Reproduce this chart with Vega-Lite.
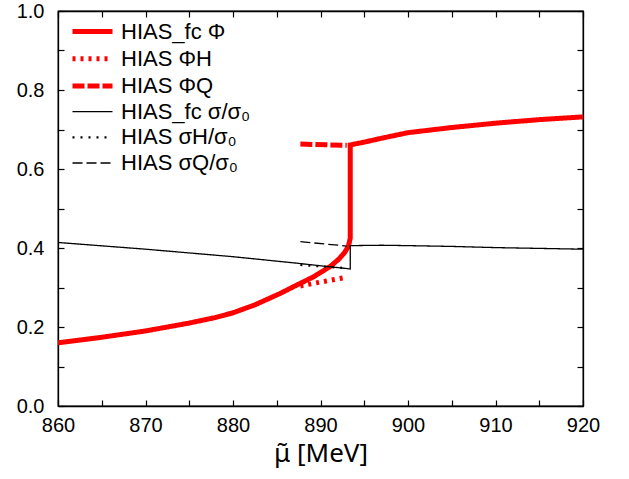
{
  "$schema": "https://vega.github.io/schema/vega-lite/v6.json",
  "width": 525,
  "height": 395,
  "autosize": {"type": "none"},
  "padding": {"left": 58, "top": 11, "right": 46, "bottom": 73},
  "background": "white",
  "config": {
    "font": "Liberation Sans",
    "view": {"stroke": "black", "strokeWidth": 1.3},
    "axis": {"grid": false, "domainColor": "black", "tickColor": "black", "labelColor": "black", "titleColor": "black", "labelFont": "Liberation Sans", "labelFontSize": 20, "tickSize": -6, "tickWidth": 1.2, "domainWidth": 1.3, "labelFlush": false, "labelOverlap": false}
  },
  "data": {"values": [
    {"s": "HIAS_fc Φ", "i": 1, "x": 860, "y": 0.160},
    {"s": "HIAS_fc Φ", "i": 2, "x": 865, "y": 0.174},
    {"s": "HIAS_fc Φ", "i": 3, "x": 870, "y": 0.190},
    {"s": "HIAS_fc Φ", "i": 4, "x": 875, "y": 0.210},
    {"s": "HIAS_fc Φ", "i": 5, "x": 878, "y": 0.224},
    {"s": "HIAS_fc Φ", "i": 6, "x": 880, "y": 0.236},
    {"s": "HIAS_fc Φ", "i": 7, "x": 882.5, "y": 0.256},
    {"s": "HIAS_fc Φ", "i": 8, "x": 885.4, "y": 0.285},
    {"s": "HIAS_fc Φ", "i": 9, "x": 887.1, "y": 0.304},
    {"s": "HIAS_fc Φ", "i": 10, "x": 889.2, "y": 0.327},
    {"s": "HIAS_fc Φ", "i": 11, "x": 891.1, "y": 0.353},
    {"s": "HIAS_fc Φ", "i": 12, "x": 892.1, "y": 0.372},
    {"s": "HIAS_fc Φ", "i": 13, "x": 892.8, "y": 0.390},
    {"s": "HIAS_fc Φ", "i": 14, "x": 893.2, "y": 0.405},
    {"s": "HIAS_fc Φ", "i": 15, "x": 893.4, "y": 0.425},
    {"s": "HIAS_fc Φ", "i": 16, "x": 893.4, "y": 0.661},
    {"s": "HIAS_fc Φ", "i": 17, "x": 895, "y": 0.668},
    {"s": "HIAS_fc Φ", "i": 18, "x": 897, "y": 0.678},
    {"s": "HIAS_fc Φ", "i": 19, "x": 900, "y": 0.692},
    {"s": "HIAS_fc Φ", "i": 20, "x": 905, "y": 0.705},
    {"s": "HIAS_fc Φ", "i": 21, "x": 910, "y": 0.716},
    {"s": "HIAS_fc Φ", "i": 22, "x": 915, "y": 0.725},
    {"s": "HIAS_fc Φ", "i": 23, "x": 920, "y": 0.732},
    {"s": "HIAS ΦH", "i": 1, "x": 887.7, "y": 0.304},
    {"s": "HIAS ΦH", "i": 2, "x": 890.3, "y": 0.315},
    {"s": "HIAS ΦH", "i": 3, "x": 893.0, "y": 0.326},
    {"s": "HIAS ΦQ", "i": 1, "x": 887.7, "y": 0.663},
    {"s": "HIAS ΦQ", "i": 2, "x": 893.0, "y": 0.660},
    {"s": "HIAS_fc σ/σ₀", "i": 1, "x": 860, "y": 0.414},
    {"s": "HIAS_fc σ/σ₀", "i": 2, "x": 870, "y": 0.397},
    {"s": "HIAS_fc σ/σ₀", "i": 3, "x": 880, "y": 0.378},
    {"s": "HIAS_fc σ/σ₀", "i": 4, "x": 887.1, "y": 0.362},
    {"s": "HIAS_fc σ/σ₀", "i": 5, "x": 890, "y": 0.355},
    {"s": "HIAS_fc σ/σ₀", "i": 6, "x": 893.4, "y": 0.347},
    {"s": "HIAS_fc σ/σ₀", "i": 7, "x": 893.4, "y": 0.406},
    {"s": "HIAS_fc σ/σ₀", "i": 8, "x": 897, "y": 0.407},
    {"s": "HIAS_fc σ/σ₀", "i": 9, "x": 900, "y": 0.406},
    {"s": "HIAS_fc σ/σ₀", "i": 10, "x": 905, "y": 0.404},
    {"s": "HIAS_fc σ/σ₀", "i": 11, "x": 910, "y": 0.401},
    {"s": "HIAS_fc σ/σ₀", "i": 12, "x": 915, "y": 0.399},
    {"s": "HIAS_fc σ/σ₀", "i": 13, "x": 920, "y": 0.397},
    {"s": "HIAS σH/σ₀", "i": 1, "x": 887.7, "y": 0.357},
    {"s": "HIAS σH/σ₀", "i": 2, "x": 893.0, "y": 0.349},
    {"s": "HIAS σQ/σ₀", "i": 1, "x": 887.7, "y": 0.416},
    {"s": "HIAS σQ/σ₀", "i": 2, "x": 893.0, "y": 0.405}
  ]},
  "layer": [
    {
      "mark": {"type": "line", "clip": true},
      "encoding": {
        "x": {"field": "x", "type": "quantitative", "scale": {"domain": [860, 920], "nice": false},
          "axis": {"orient": "bottom", "title": "μ̃ [MeV]", "titleFont": "Noto Sans", "titleFontSize": 26, "titleFontWeight": "normal", "titlePadding": 5, "labelPadding": 15,
            "values": [860,865,870,875,880,885,890,895,900,905,910,915,920],
            "labelExpr": "datum.value % 10 == 0 ? datum.label : ''"}},
        "y": {"field": "y", "type": "quantitative", "scale": {"domain": [0, 1], "nice": false},
          "axis": {"orient": "left", "title": null, "labelPadding": 20,
            "values": [0,0.1,0.2,0.3,0.4,0.5,0.6,0.7,0.8,0.9,1.0],
            "labelExpr": "round(datum.value*10) % 2 == 0 ? format(datum.value, '.1f') : ''"}},
        "order": {"field": "i", "type": "quantitative"},
        "color": {"field": "s", "type": "nominal",
          "scale": {"domain": ["HIAS_fc Φ", "HIAS ΦH", "HIAS ΦQ", "HIAS_fc σ/σ₀", "HIAS σH/σ₀", "HIAS σQ/σ₀"],
                    "range": ["#ff0000", "#ff0000", "#ff0000", "#000000", "#000000", "#000000"]},
          "legend": {"orient": "none", "legendX": 22, "legendY": 8, "title": null, "symbolType": "M-2,0H2", "symbolSize": 400, "labelFont": "Liberation Sans", "labelFontSize": 22, "labelColor": "black", "rowPadding": 3.2, "labelOffset": 16, "symbolLimit": 0}},
        "strokeDash": {"field": "s", "type": "nominal",
          "scale": {"domain": ["HIAS_fc Φ", "HIAS ΦH", "HIAS ΦQ", "HIAS_fc σ/σ₀", "HIAS σH/σ₀", "HIAS σQ/σ₀"],
                    "range": [[1, 0], [3, 5], [12, 3], [1, 0], [2, 6], [10, 4]]}},
        "strokeWidth": {"field": "s", "type": "nominal",
          "scale": {"type": "ordinal", "domain": ["HIAS_fc Φ", "HIAS ΦH", "HIAS ΦQ", "HIAS_fc σ/σ₀", "HIAS σH/σ₀", "HIAS σQ/σ₀"],
                    "range": [5, 5, 5, 1.3, 2.2, 1.3]}}
      }
    },
    {
      "mark": {"type": "line", "opacity": 0},
      "encoding": {
        "x": {"field": "x", "type": "quantitative",
          "axis": {"orient": "top", "title": null, "labels": false, "values": [860,865,870,875,880,885,890,895,900,905,910,915,920]}},
        "y": {"field": "y", "type": "quantitative",
          "axis": {"orient": "right", "title": null, "labels": false, "values": [0,0.1,0.2,0.3,0.4,0.5,0.6,0.7,0.8,0.9,1.0]}},
        "detail": {"field": "s"}
      }
    }
  ]
}
